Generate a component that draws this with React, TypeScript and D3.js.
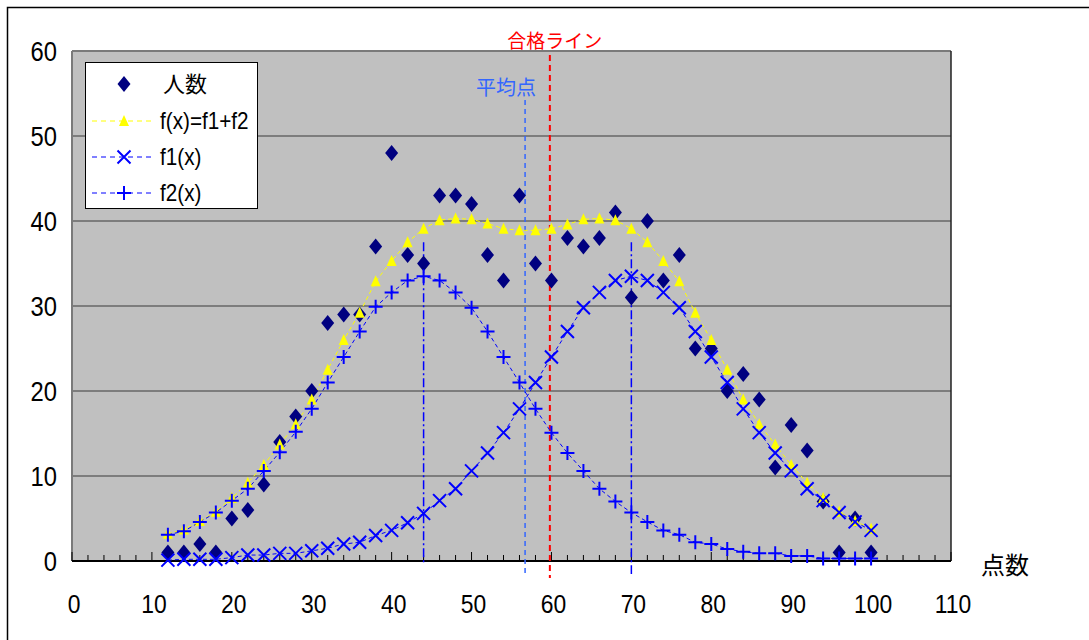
import React from "react";
import * as d3 from "d3";

const xs = [12,14,16,18,20,22,24,26,28,30,32,34,36,38,40,42,44,46,48,50,52,54,56,58,60,62,64,66,68,70,72,74,76,78,80,82,84,86,88,90,92,94,96,98,100];
const people = [1,1,2,1,5,6,9,14,17,20,28,29,29,37,48,36,35,43,43,42,36,33,43,35,33,38,37,38,41,31,40,33,36,25,25,20,22,19,11,16,13,7,1,5,1];
const fSum = [3.2,3.7,4.7,5.8,7.4,9.2,11.3,13.7,16.1,19.0,22.5,26.0,29.2,32.9,35.3,37.5,39.1,40.1,40.3,40.2,39.7,39.1,38.9,38.9,39.1,39.6,40.2,40.3,40.1,39.1,37.5,35.3,32.9,29.2,26.0,22.5,19.0,16.1,13.7,11.3,9.2,7.4,5.8,4.7,3.8];
const f1 = [0.1,0.2,0.2,0.2,0.4,0.7,0.7,0.9,0.9,1.2,1.5,2.0,2.2,3.0,3.6,4.5,5.6,7.1,8.5,10.6,12.7,15.1,17.9,21.0,24.0,27.0,29.8,31.6,33.0,33.5,33.0,31.6,29.8,27.0,24.0,21.0,17.9,15.1,12.7,10.6,8.5,7.1,5.7,4.6,3.6];
const f2 = [3.1,3.5,4.6,5.7,7.1,8.5,10.6,12.8,15.2,17.9,21.0,24.0,27.0,29.9,31.6,33.0,33.5,33.0,31.6,29.8,27.0,24.0,21.0,17.9,15.1,12.7,10.6,8.5,7.0,5.7,4.6,3.6,3.1,2.2,2.0,1.4,1.1,0.9,0.9,0.6,0.6,0.3,0.3,0.3,0.3];

const xTicks = [0,10,20,30,40,50,60,70,80,90,100,110];
const yTicks = [0,10,20,30,40,50,60];
const passLine = 59.8;
const meanLine = 56.7;
const peakLines = [44, 70];

const NUM_FONT = "'Liberation Sans', Arial, sans-serif";
const JP_FONT = "'Noto Sans CJK JP', sans-serif";

export default function App() {
  const x = d3.scaleLinear().domain([0, 110]).range([72, 951]);
  const y = d3.scaleLinear().domain([0, 60]).range([561, 51]);
  const line = (vals: number[]) =>
    d3.line<number>().x((_, i) => x(xs[i])).y((v) => y(v))(vals) || "";

  const diamond = "M0,-8L6.5,0L0,8L-6.5,0Z";
  const tri = "M0,-6L5,5L-5,5Z";
  const cross = "M-6.5,-6.5L6.5,6.5M-6.5,6.5L6.5,-6.5";
  const plus = "M-7,0L7,0M0,-7L0,7";

  const minorTicks = d3.range(0, 111, 2);

  return (
    <svg width={1089} height={640} style={{ position: "absolute", left: 0, top: 0, background: "#fff" }}>
      <rect x={7.5} y={7.5} width={1100} height={700} fill="#fff" stroke="#000" strokeWidth={1.5} />
      {/* plot area */}
      <rect x={x(0)} y={y(60)} width={x(110) - x(0)} height={y(0) - y(60)} fill="#C0C0C0" />
      {yTicks.filter((t) => t > 0 && t < 60).map((t) => (
        <line key={t} x1={x(0)} x2={x(110)} y1={y(t)} y2={y(t)} stroke="#3a3a3a" strokeWidth={1.2} />
      ))}
      <line x1={x(0)} x2={x(110)} y1={y(60)} y2={y(60)} stroke="#7a7a7a" strokeWidth={2} />
      <line x1={x(0)} x2={x(0)} y1={y(60)} y2={y(0)} stroke="#7a7a7a" strokeWidth={2} />
      <line x1={x(110)} x2={x(110)} y1={y(60)} y2={y(0)} stroke="#222" strokeWidth={1.5} />
      {minorTicks.map((t) => (
        <line key={t} x1={x(t)} x2={x(t)} y1={y(0)} y2={y(0) - (t % 10 === 0 ? 9 : 6)} stroke="#000" strokeWidth={1} />
      ))}
      <line x1={x(0)} x2={x(110)} y1={y(0)} y2={y(0)} stroke="#000" strokeWidth={2} />

      {/* axis labels */}
      {yTicks.map((t) => (
        <text key={t} transform={`translate(57,${y(t)}) scale(0.88,1)`} dy="0.36em" textAnchor="end" fontFamily={NUM_FONT} fontSize={27}>{t}</text>
      ))}
      {xTicks.map((t) => (
        <text key={t} transform={`translate(${x(t) + 2},604) scale(0.88,1)`} dy="0.36em" textAnchor="middle" fontFamily={NUM_FONT} fontSize={26}>{t}</text>
      ))}
      <text x={1005} y={565} dy="0.36em" textAnchor="middle" fontFamily={JP_FONT} fontSize={24}>点数</text>

      {/* reference lines */}
      <line x1={x(passLine)} x2={x(passLine)} y1={55} y2={578} stroke="#FF0000" strokeWidth={2} strokeDasharray="6,4" />
      <text x={x(passLine) + 5} y={41} dy="0.36em" textAnchor="middle" fill="#FF0000" fontFamily={JP_FONT} fontSize={19}>合格ライン</text>
      <line x1={x(meanLine)} x2={x(meanLine)} y1={100} y2={574} stroke="#3366FF" strokeWidth={1.5} strokeDasharray="5,4" />
      <text x={x(meanLine) - 19} y={88} dy="0.36em" textAnchor="middle" fill="#3366FF" fontFamily={JP_FONT} fontSize={20}>平均点</text>
      {peakLines.map((p, i) => (
        <line key={p} x1={x(p)} x2={x(p)} y1={y(37.5)} y2={i === 0 ? 563 : 574} stroke="#0000FF" strokeWidth={1.5} strokeDasharray="9,3,2,3" />
      ))}

      {/* series lines */}
      <path d={line(fSum)} fill="none" stroke="#FFFF00" strokeWidth={1} strokeDasharray="4,3" />
      <path d={line(f1)} fill="none" stroke="#0000FF" strokeWidth={1} strokeDasharray="4,3" />
      <path d={line(f2)} fill="none" stroke="#0000FF" strokeWidth={1} strokeDasharray="4,3" />

      {/* markers */}
      {people.map((v, i) => (
        <path key={"p" + i} d={diamond} transform={`translate(${x(xs[i])},${y(v)})`} fill="#000080" />
      ))}
      {fSum.map((v, i) => (
        <path key={"s" + i} d={tri} transform={`translate(${x(xs[i])},${y(v)})`} fill="#FFFF00" />
      ))}
      {f1.map((v, i) => (
        <path key={"a" + i} d={cross} transform={`translate(${x(xs[i])},${y(v)})`} stroke="#0000FF" strokeWidth={2} fill="none" />
      ))}
      {f2.map((v, i) => (
        <path key={"b" + i} d={plus} transform={`translate(${x(xs[i])},${y(v)})`} stroke="#0000FF" strokeWidth={2} fill="none" />
      ))}

      {/* legend */}
      <rect x={85.5} y={62.5} width={172} height={146} fill="#fff" stroke="#000" strokeWidth={1} />
      <path d={diamond} transform="translate(124,84)" fill="#000080" />
      <text x={163} y={84} dy="0.36em" fontFamily={JP_FONT} fontSize={22}>人数</text>
      <line x1={92} x2={155} y1={121} y2={121} stroke="#FFFF00" strokeWidth={1} strokeDasharray="5,4" />
      <path d={tri} transform="translate(124,121)" fill="#FFFF00" />
      <text transform="translate(160,121) scale(0.9,1)" dy="0.36em" fontFamily={NUM_FONT} fontSize={23}>f(x)=f1+f2</text>
      <line x1={92} x2={155} y1={157} y2={157} stroke="#0000FF" strokeWidth={1} strokeDasharray="5,4" />
      <path d={cross} transform="translate(124,157)" stroke="#0000FF" strokeWidth={2} fill="none" />
      <text transform="translate(160,157) scale(0.9,1)" dy="0.36em" fontFamily={NUM_FONT} fontSize={23}>f1(x)</text>
      <line x1={92} x2={155} y1={193} y2={193} stroke="#0000FF" strokeWidth={1} strokeDasharray="5,4" />
      <path d={plus} transform="translate(124,193)" stroke="#0000FF" strokeWidth={2} fill="none" />
      <text transform="translate(160,193) scale(0.9,1)" dy="0.36em" fontFamily={NUM_FONT} fontSize={23}>f2(x)</text>
    </svg>
  );
}
